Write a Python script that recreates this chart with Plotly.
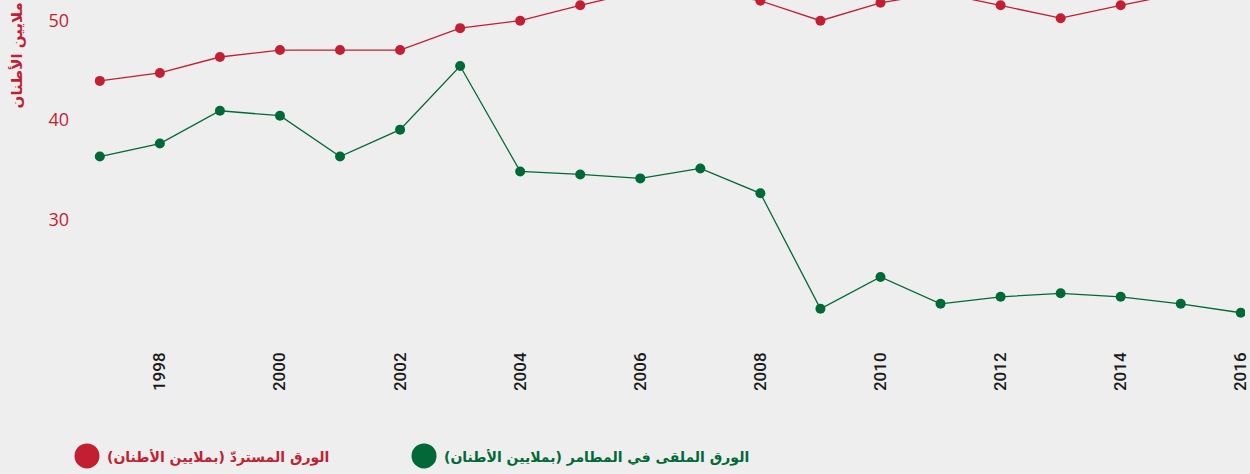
import plotly.graph_objects as go

# Paper recovered vs. paper sent to landfill, million tonnes
years = list(range(1997, 2017))
recovered = [43.9, 44.7, 46.3, 47.0, 47.0, 47.0, 49.2, 49.95, 51.5, 52.9,
             53.0, 51.95, 49.95, 51.75, 52.75, 51.5, 50.2, 51.5, 52.7, 53.0]
landfilled = [36.3, 37.6, 40.9, 40.4, 36.3, 39.0, 45.4, 34.8, 34.5, 34.1,
              35.1, 32.6, 21.0, 24.2, 21.5, 22.2, 22.55, 22.2, 21.5, 20.6]

y_ticks = [30, 40, 50]
x_ticks = list(range(1998, 2017, 2))

name_recovered = "الورق المستردّ (بملايين الأطنان)"
name_landfilled = "الورق الملقى في المطامر (بملايين الأطنان)"
axis_title = "ملايين الأطنان"

RED = "#c21f32"
GREEN = "#006935"
BG = "#eeeeee"

fig = go.Figure()
fig.add_trace(go.Scatter(
    x=years, y=recovered, mode="lines+markers", name=name_recovered,
    line=dict(color=RED, width=1.3),
    marker=dict(color=RED, size=10),
    showlegend=False,
))
fig.add_trace(go.Scatter(
    x=years, y=landfilled, mode="lines+markers", name=name_landfilled,
    line=dict(color=GREEN, width=1.3),
    marker=dict(color=GREEN, size=10),
    showlegend=False,
))

fig.update_layout(
    width=1250, height=474,
    margin=dict(l=80, r=0, t=0, b=134),
    paper_bgcolor=BG, plot_bgcolor=BG,
    font=dict(family="DejaVu Sans"),
)
fig.update_xaxes(
    range=[1996.67, 2016.07],
    tickvals=x_ticks, ticktext=[str(v) for v in x_ticks],
    tickangle=-90, showgrid=False, zeroline=False, showline=False,
    ticklabelstandoff=8, ticklabeloverflow="allow",
    tickfont=dict(family="Roboto", size=17, color="#1a1a1a", weight=500),
)
fig.update_yaxes(
    range=[17.86, 52.03],
    tickvals=y_ticks, ticktext=[str(v) for v in y_ticks],
    showgrid=False, zeroline=False, showline=False,
    ticklabelstandoff=10,
    tickfont=dict(family="Open Sans", size=18, color=RED),
)

# Rotated axis caption
fig.add_annotation(
    text=axis_title, textangle=-90,
    xref="paper", yref="paper", x=-0.0538, y=0.838,
    xanchor="center", yanchor="middle",
    showarrow=False,
    font=dict(size=15, color=RED, weight="bold"),
)

# Legend row: filled circle keys with series names
legend_items = [(0.0060, RED, name_recovered), (0.2953, GREEN, name_landfilled)]
for xk, color, label in legend_items:
    fig.add_shape(
        type="circle", xref="paper", yref="paper",
        xsizemode="pixel", ysizemode="pixel",
        xanchor=xk, yanchor=-0.341,
        x0=-12.5, x1=12.5, y0=-12.5, y1=12.5,
        fillcolor=color, line=dict(width=0),
    )
    fig.add_annotation(
        text=label, xref="paper", yref="paper",
        x=xk + 18 / 1170, y=-0.347, xanchor="left", yanchor="middle",
        showarrow=False,
        font=dict(size=14, color=color, weight="bold"),
    )

fig.write_html("out.html")
